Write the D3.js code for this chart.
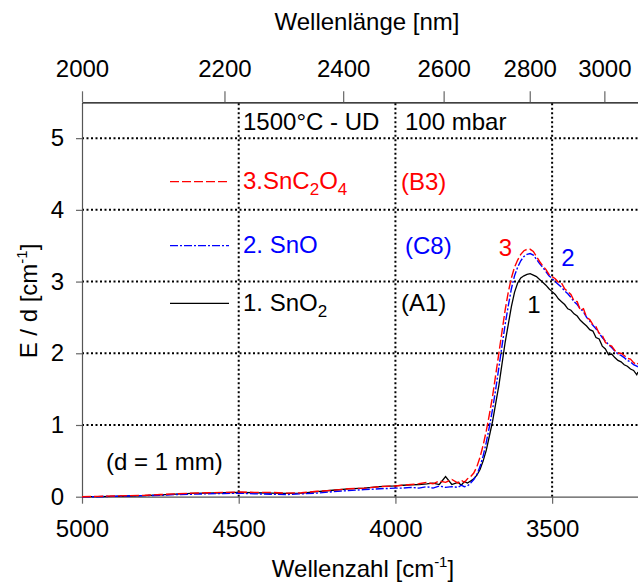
<!DOCTYPE html>
<html><head><meta charset="utf-8">
<script src="https://cdn.jsdelivr.net/npm/d3@7"></script>
<style>
body{margin:0;background:#fff;}
svg{font-family:"Liberation Sans",Arial,sans-serif;}
</style></head>
<body><svg id="c" width="638" height="582"></svg>
<script>
// ---- data ----
const wavenumber = [5000,4950,4900,4850,4800,4750,4700,4650,4600,4550,4500,4450,4400,4350,4300,4250,4200,4150,4100,4050,4000,3975,3950,3925,3900,3880,3860,3840,3820,3800,3790,3780,3770,3760,3750,3740,3730,3720,3710,3700,3690,3680,3670,3660,3650,3640,3630,3620,3610,3600,3590,3580,3570,3560,3550,3540,3530,3520,3510,3500,3490,3480,3470,3460,3450,3440,3430,3420,3410,3400,3390,3380,3370,3360,3350,3340,3330,3320,3310,3300,3290,3280,3270,3260,3250,3240,3230,3226];
const seriesA1 = [0.0,0.0,0.005,0.01,0.015,0.025,0.035,0.045,0.05,0.055,0.06,0.055,0.05,0.045,0.05,0.07,0.09,0.11,0.12,0.14,0.15,0.16,0.165,0.17,0.18,0.19,0.17,0.28,0.17,0.2,0.16,0.21,0.19,0.22,0.25,0.3,0.38,0.5,0.65,0.85,1.05,1.3,1.55,1.85,2.15,2.4,2.65,2.85,2.98,3.05,3.08,3.1,3.11,3.09,3.07,3.03,2.99,2.95,2.9,2.86,2.82,2.76,2.72,2.68,2.62,2.6,2.55,2.52,2.46,2.42,2.38,2.33,2.31,2.22,2.2,2.1,2.06,1.98,1.99,1.94,1.9,1.88,1.84,1.82,1.78,1.76,1.7,1.74];
const seriesC8 = [0.0,0.0,0.005,0.01,0.015,0.02,0.03,0.035,0.04,0.045,0.05,0.04,0.035,0.03,0.04,0.05,0.07,0.085,0.1,0.11,0.12,0.12,0.13,0.12,0.14,0.12,0.15,0.13,0.14,0.13,0.16,0.14,0.15,0.19,0.24,0.31,0.42,0.57,0.76,0.98,1.22,1.5,1.8,2.1,2.4,2.66,2.9,3.08,3.2,3.29,3.35,3.38,3.39,3.37,3.31,3.25,3.2,3.14,3.08,3.04,3.0,2.96,2.92,2.87,2.83,2.78,2.72,2.68,2.62,2.58,2.5,2.45,2.39,2.34,2.28,2.22,2.17,2.12,2.08,2.03,1.99,1.97,1.94,1.9,1.88,1.84,1.82,1.81];
const seriesB3 = [0.0,0.005,0.01,0.015,0.02,0.03,0.04,0.05,0.055,0.06,0.065,0.06,0.06,0.05,0.055,0.075,0.09,0.11,0.12,0.14,0.15,0.16,0.17,0.18,0.2,0.18,0.22,0.2,0.24,0.19,0.23,0.2,0.25,0.28,0.33,0.42,0.55,0.72,0.92,1.15,1.4,1.7,2.0,2.3,2.6,2.85,3.05,3.2,3.3,3.38,3.43,3.45,3.45,3.42,3.35,3.28,3.22,3.17,3.1,3.07,3.04,2.99,2.98,2.9,2.86,2.82,2.73,2.72,2.6,2.62,2.5,2.47,2.4,2.37,2.28,2.25,2.15,2.12,2.1,2.04,2.0,2.0,1.97,1.93,1.92,1.87,1.84,1.86];
const bottomTicks = [5000,4500,4000,3500];
const topTicksNm = [2000,2200,2400,2600,2800,3000];
const yTicks = [0,1,2,3,4,5];
const gridX = [4500,4000,3500];
const gridY = [1,2,3,4,5];

// ---- setup ----
const svg = d3.select("#c");
const L=82, R=638, T=102.3, B=496.7;
const x = d3.scaleLinear().domain([5000,3226]).range([L,R]);
const y = d3.scaleLinear().domain([0,5.5]).range([B,T]);
const FS = 24;

// gridlines
const grid = svg.append("g");
grid.selectAll("line.gy").data(gridY).join("line")
  .attr("x1",L).attr("x2",R).attr("y1",d=>y(d)).attr("y2",d=>y(d))
  .attr("stroke","#000").attr("stroke-width",2).attr("stroke-dasharray","2,2.5");
grid.selectAll("line.gx").data(gridX).join("line")
  .attr("x1",d=>x(d)).attr("x2",d=>x(d)).attr("y1",B).attr("y2",T)
  .attr("stroke","#000").attr("stroke-width",2).attr("stroke-dasharray","2,2.5");

// axes
const axB = svg.append("g").attr("transform",`translate(0,${B})`)
  .call(d3.axisBottom(x).tickValues(bottomTicks).tickSize(7).tickSizeOuter(0).tickPadding(16).tickFormat(d3.format("d")));
const axL = svg.append("g").attr("transform",`translate(${L},0)`)
  .call(d3.axisLeft(y).tickValues(yTicks).tickSize(6).tickSizeOuter(0).tickPadding(12).tickFormat(d3.format("d")));
const axT = svg.append("g").attr("transform",`translate(0,${T})`)
  .call(d3.axisTop(x).tickValues(topTicksNm.map(l=>1e7/l)).tickSize(11).tickSizeOuter(0).tickPadding(14)
    .tickFormat(v=>String(Math.round(1e7/v))));
[axB,axL,axT].forEach(a=>{
  a.selectAll("text").attr("font-size",FS).attr("font-family","Liberation Sans, Arial, sans-serif").attr("fill","#000");
  a.selectAll("line").attr("stroke","#666").attr("stroke-width",1.2);
  a.select(".domain").attr("stroke","#555").attr("stroke-width",1.2);
});
axT.select(".domain").attr("stroke","#000");

// curves
const line = d3.line().x((d,i)=>x(wavenumber[i])).y(d=>y(d));
const curves = [
  {data:seriesA1,color:"#000",dash:null,w:1.3},
  {data:seriesC8,color:"#0000ff",dash:"8,2,2,2",w:1.4},
  {data:seriesB3,color:"#ff0000",dash:"9,3",w:1.4}
];
const cg = svg.append("g");
curves.forEach(c=>{
  cg.append("path").attr("d",line(c.data)).attr("fill","none")
    .attr("stroke",c.color).attr("stroke-width",c.w)
    .attr("stroke-dasharray",c.dash);
});

// legend lines
const legend = [
  {yy:181.7,color:"#ff0000",dash:"9,3"},
  {yy:245.7,color:"#0000ff",dash:"8,2,2,2"},
  {yy:303.3,color:"#000",dash:null}
];
legend.forEach(l=>{
  svg.append("line").attr("x1",170).attr("x2",229).attr("y1",l.yy).attr("y2",l.yy)
    .attr("stroke",l.color).attr("stroke-width",1.2).attr("stroke-dasharray",l.dash);
});

// texts
function txt(xx,yy,color,parts,anchor){
  const t = svg.append("text").attr("x",xx).attr("y",yy).attr("fill",color)
    .attr("font-size",FS).attr("text-anchor",anchor||"start");
  let pending = 0;
  parts.forEach(p=>{
    if(typeof p==="string"){
      const s = t.append("tspan").text(p);
      if(pending){ s.attr("dy",pending); pending=0; }
    } else if(p.sub){
      t.append("tspan").attr("font-size",17).attr("dy",6+pending).text(p.sub); pending=-6;
    } else if(p.sup){
      t.append("tspan").attr("font-size",15).attr("dy",-10+pending).text(p.sup); pending=10;
    }
  });
  return t;
}
txt(243,130,"#000",["1500°C - UD"]);
txt(405,130,"#000",["100 mbar"]);
txt(243,188.5,"#ff0000",["3.SnC",{sub:"2"},"O",{sub:"4"}]);
txt(401,190,"#ff0000",["(B3)"]);
txt(243,253,"#0000ff",["2. SnO"]);
txt(405,254,"#0000ff",["(C8)"]);
txt(243,311,"#000",["1. SnO",{sub:"2"}]);
txt(401,311,"#000",["(A1)"]);
txt(106,470,"#000",["(d = 1 mm)"]);
txt(505.5,256,"#ff0000",["3"],"middle");
txt(568,266,"#0000ff",["2"],"middle");
txt(534,313,"#000",["1"],"middle");

// axis titles
txt(363,577,"#000",["Wellenzahl [cm",{sup:"-1"},"]"],"middle");
txt(367,30,"#000",["Wellenlänge [nm]"],"middle");
txt(0,0,"#000",["E / d [cm",{sup:"-1"},"]"],"middle").attr("transform","translate(37,301) rotate(-90)");
</script></body></html>
